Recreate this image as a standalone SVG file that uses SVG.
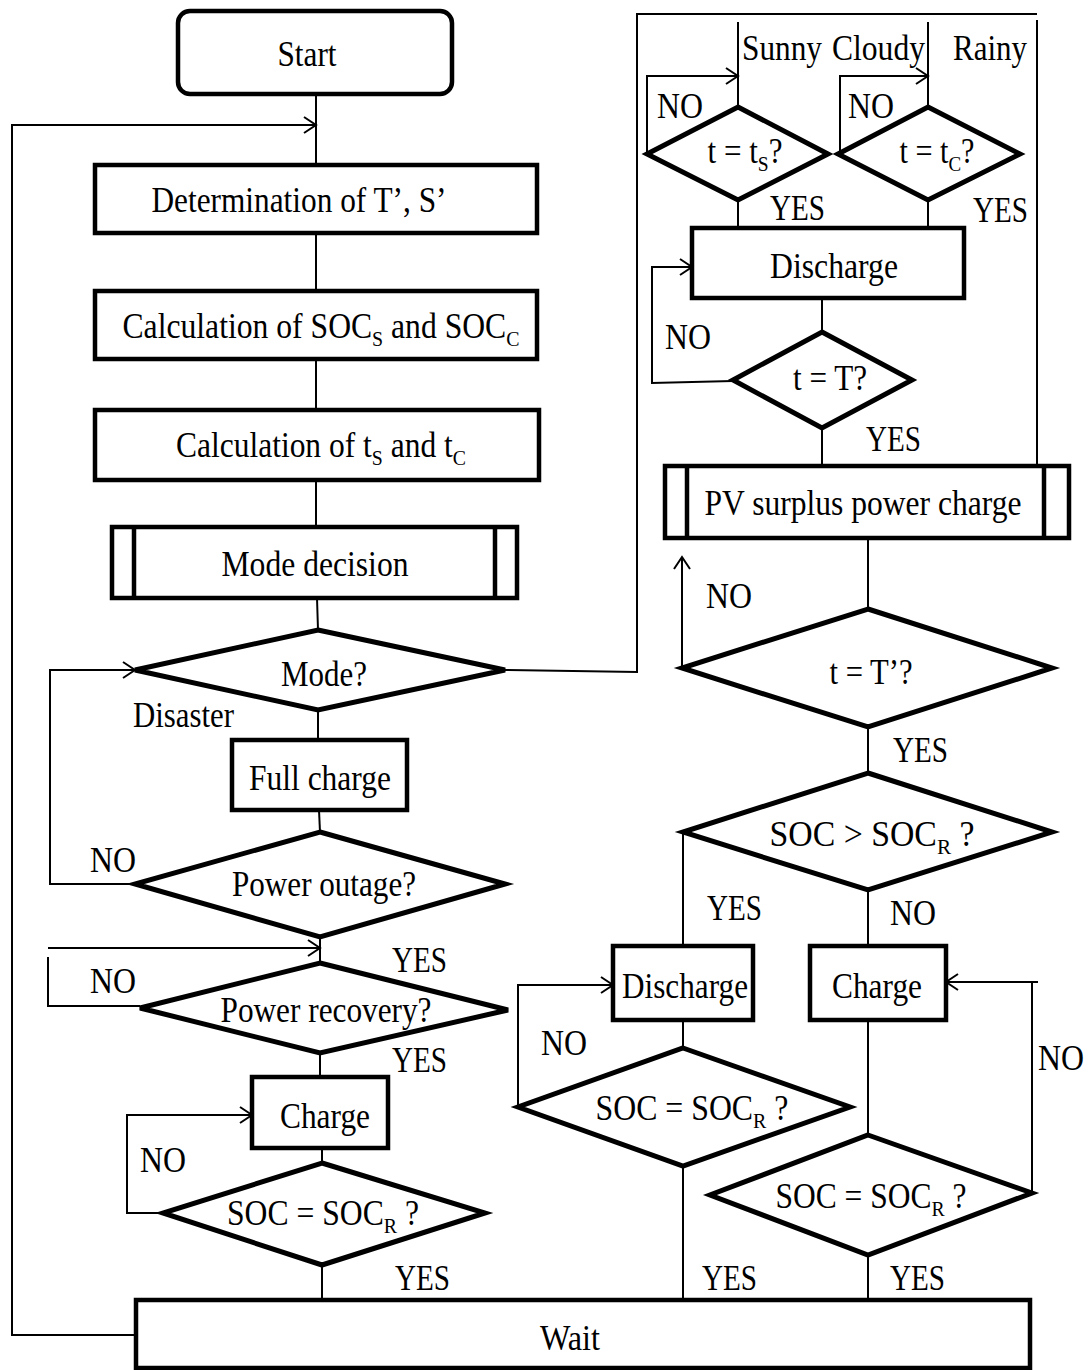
<svg xmlns="http://www.w3.org/2000/svg" width="1089" height="1370" viewBox="0 0 1089 1370">
<style>
.box{fill:#fff;stroke:#000;stroke-width:4.5}
.dia{fill:#fff;stroke:#000;stroke-width:5;stroke-linejoin:miter}
.ln{fill:none;stroke:#000;stroke-width:2}
.in{stroke:#000;stroke-width:4.5}
text{font-family:"Liberation Serif","Times New Roman",serif;font-size:35px;fill:#000}
.c{text-anchor:middle}
.sub{font-size:22px}
</style>
<defs>
<marker id="ah" markerUnits="userSpaceOnUse" markerWidth="20" markerHeight="20" viewBox="0 0 20 20" refX="15" refY="10" orient="auto">
<path d="M3,2 L15,10 L3,18" fill="none" stroke="#000" stroke-width="2"/>
</marker>
</defs>
<rect width="1089" height="1370" fill="#fff"/>
<g id="connectors">
<line class="ln" x1="316" y1="94" x2="316" y2="165"/>
<polyline class="ln" points="136,1335 12,1335 12,125 316,125" marker-end="url(#ah)"/>
<line class="ln" x1="316" y1="233" x2="316" y2="291"/>
<line class="ln" x1="316" y1="359" x2="316" y2="410"/>
<line class="ln" x1="316" y1="480" x2="316" y2="527"/>
<line class="ln" x1="317" y1="598" x2="318" y2="630"/>
<polyline class="ln" points="505,670 637,672 637,14 1037,14"/>
<line class="ln" x1="1037" y1="20" x2="1037" y2="466"/>
<line class="ln" x1="738" y1="22" x2="738" y2="107"/>
<line class="ln" x1="928" y1="22" x2="928" y2="107"/>
<polyline class="ln" points="647,154 647,76 738,76" marker-end="url(#ah)"/>
<polyline class="ln" points="840,154 840,76 928,76" marker-end="url(#ah)"/>
<line class="ln" x1="738" y1="200" x2="738" y2="228"/>
<line class="ln" x1="928" y1="200" x2="928" y2="228"/>
<line class="ln" x1="822" y1="298" x2="822" y2="332"/>
<polyline class="ln" points="733,381 652,383 652,267 692,267" marker-end="url(#ah)"/>
<line class="ln" x1="822" y1="428" x2="822" y2="466"/>
<line class="ln" x1="868" y1="538" x2="868" y2="609"/>
<line class="ln" x1="682" y1="668" x2="682" y2="557" marker-end="url(#ah)"/>
<line class="ln" x1="868" y1="727" x2="868" y2="773"/>
<line class="ln" x1="683" y1="832" x2="683" y2="946"/>
<line class="ln" x1="868" y1="890" x2="868" y2="946"/>
<line class="ln" x1="683" y1="1020" x2="683" y2="1048"/>
<polyline class="ln" points="518,1107 518,985 613,985" marker-end="url(#ah)"/>
<line class="ln" x1="683" y1="1166" x2="683" y2="1300"/>
<line class="ln" x1="868" y1="1020" x2="868" y2="1135"/>
<polyline class="ln" points="1032,1193 1032,982 1038,982"/>
<line class="ln" x1="1032" y1="982" x2="946" y2="982" marker-end="url(#ah)"/>
<line class="ln" x1="868" y1="1255" x2="868" y2="1300"/>
<line class="ln" x1="318" y1="710" x2="318" y2="740"/>
<line class="ln" x1="319" y1="810" x2="320" y2="832"/>
<polyline class="ln" points="135,884 50,884 50,670 135,670" marker-end="url(#ah)"/>
<line class="ln" x1="320" y1="937" x2="320" y2="963"/>
<line class="ln" x1="48" y1="948" x2="320" y2="948" marker-end="url(#ah)"/>
<polyline class="ln" points="140,1006 48,1006 48,957"/>
<line class="ln" x1="320" y1="1053" x2="320" y2="1077"/>
<line class="ln" x1="322" y1="1148" x2="322" y2="1163"/>
<polyline class="ln" points="163,1213 127,1213 127,1115 252,1115" marker-end="url(#ah)"/>
<line class="ln" x1="322" y1="1265" x2="322" y2="1300"/>
</g>
<g id="start"><rect class="box" x="178" y="11" width="274" height="83" rx="12"/><text class="c" x="307" y="66" textLength="59" lengthAdjust="spacingAndGlyphs">Start</text></g>
<g id="determination"><rect class="box" x="95" y="165" width="442" height="68"/><text class="c" x="299" y="212" textLength="295" lengthAdjust="spacingAndGlyphs">Determination of T’, S’</text></g>
<g id="calc-soc"><rect class="box" x="95" y="291" width="442" height="68"/><text class="c" x="321" y="338" textLength="397" lengthAdjust="spacingAndGlyphs">Calculation of SOC<tspan class="sub" dy="8">S</tspan><tspan dy="-8"> and SOC</tspan><tspan class="sub" dy="8">C</tspan></text></g>
<g id="calc-t"><rect class="box" x="95" y="410" width="444" height="70"/><text class="c" x="321" y="457" textLength="290" lengthAdjust="spacingAndGlyphs">Calculation of t<tspan class="sub" dy="8">S</tspan><tspan dy="-8"> and t</tspan><tspan class="sub" dy="8">C</tspan></text></g>
<g id="mode-decision"><rect class="box" x="112" y="527" width="405" height="71"/><line class="in" x1="134" y1="527" x2="134" y2="598"/><line class="in" x1="495" y1="527" x2="495" y2="598"/><text class="c" x="315" y="576" textLength="187" lengthAdjust="spacingAndGlyphs">Mode decision</text></g>
<g id="mode"><polygon class="dia" points="318,630 505,670 318,710 135,670"/><text class="c" x="324" y="686" textLength="86" lengthAdjust="spacingAndGlyphs">Mode?</text></g>
<g id="full-charge"><rect class="box" x="232" y="740" width="175" height="70"/><text class="c" x="320" y="790" textLength="142" lengthAdjust="spacingAndGlyphs">Full charge</text></g>
<g id="power-outage"><polygon class="dia" points="320,832 505,884 320,937 135,884"/><text class="c" x="324" y="896" textLength="184" lengthAdjust="spacingAndGlyphs">Power outage?</text></g>
<g id="power-recovery"><polygon class="dia" points="320,963 508,1010 320,1053 140,1008"/><text class="c" x="326" y="1022" textLength="211" lengthAdjust="spacingAndGlyphs">Power recovery?</text></g>
<g id="charge-left"><rect class="box" x="252" y="1077" width="136" height="71"/><text class="c" x="325" y="1128" textLength="90" lengthAdjust="spacingAndGlyphs">Charge</text></g>
<g id="soc-left"><polygon class="dia" points="322,1163 485,1213 322,1265 163,1213"/><text class="c" x="323" y="1225" textLength="192" lengthAdjust="spacingAndGlyphs">SOC = SOC<tspan class="sub" dy="8">R</tspan><tspan dy="-8"> ?</tspan></text></g>
<g id="wait"><rect class="box" x="136" y="1300" width="894" height="68"/><text class="c" x="570" y="1350" textLength="60" lengthAdjust="spacingAndGlyphs">Wait</text></g>
<g id="t-ts"><polygon class="dia" points="738,107 828,154 738,200 647,154"/><text class="c" x="745" y="163" textLength="75" lengthAdjust="spacingAndGlyphs">t = t<tspan class="sub" dy="8">S</tspan><tspan dy="-8">?</tspan></text></g>
<g id="t-tc"><polygon class="dia" points="928,107 1020,154 928,200 838,154"/><text class="c" x="937" y="163" textLength="75" lengthAdjust="spacingAndGlyphs">t = t<tspan class="sub" dy="8">C</tspan><tspan dy="-8">?</tspan></text></g>
<g id="discharge-top"><rect class="box" x="692" y="228" width="272" height="70"/><text class="c" x="834" y="278" textLength="128" lengthAdjust="spacingAndGlyphs">Discharge</text></g>
<g id="t-T"><polygon class="dia" points="822,332 912,380 822,428 733,380"/><text class="c" x="830" y="390" textLength="74" lengthAdjust="spacingAndGlyphs">t = T?</text></g>
<g id="pv-surplus"><rect class="box" x="665" y="466" width="404" height="72"/><line class="in" x1="687" y1="466" x2="687" y2="538"/><line class="in" x1="1044" y1="466" x2="1044" y2="538"/><text class="c" x="863" y="515" textLength="317" lengthAdjust="spacingAndGlyphs">PV surplus power charge</text></g>
<g id="t-Tp"><polygon class="dia" points="868,609 1052,668 868,727 682,668"/><text class="c" x="871" y="684" textLength="83" lengthAdjust="spacingAndGlyphs">t = T’?</text></g>
<g id="soc-gt"><polygon class="dia" points="868,773 1052,832 868,890 683,832"/><text class="c" x="872" y="846" textLength="205" lengthAdjust="spacingAndGlyphs">SOC &gt; SOC<tspan class="sub" dy="8">R</tspan><tspan dy="-8"> ?</tspan></text></g>
<g id="discharge-mid"><rect class="box" x="613" y="946" width="140" height="74"/><text class="c" x="685" y="998" textLength="126" lengthAdjust="spacingAndGlyphs">Discharge</text></g>
<g id="charge-right"><rect class="box" x="810" y="946" width="136" height="74"/><text class="c" x="877" y="998" textLength="90" lengthAdjust="spacingAndGlyphs">Charge</text></g>
<g id="soc-mid"><polygon class="dia" points="683,1048 850,1107 683,1166 518,1107"/><text class="c" x="692" y="1120" textLength="193" lengthAdjust="spacingAndGlyphs">SOC = SOC<tspan class="sub" dy="8">R</tspan><tspan dy="-8"> ?</tspan></text></g>
<g id="soc-right"><polygon class="dia" points="868,1135 1032,1193 868,1255 710,1195"/><text class="c" x="871" y="1208" textLength="191" lengthAdjust="spacingAndGlyphs">SOC = SOC<tspan class="sub" dy="8">R</tspan><tspan dy="-8"> ?</tspan></text></g>
<g id="labels">
<text x="742" y="60" textLength="80" lengthAdjust="spacingAndGlyphs">Sunny</text>
<text x="832" y="60" textLength="93" lengthAdjust="spacingAndGlyphs">Cloudy</text>
<text x="953" y="60" textLength="74" lengthAdjust="spacingAndGlyphs">Rainy</text>
<text x="657" y="118" textLength="46" lengthAdjust="spacingAndGlyphs">NO</text>
<text x="848" y="118" textLength="46" lengthAdjust="spacingAndGlyphs">NO</text>
<text x="770" y="220" textLength="55" lengthAdjust="spacingAndGlyphs">YES</text>
<text x="973" y="222" textLength="55" lengthAdjust="spacingAndGlyphs">YES</text>
<text x="665" y="349" textLength="46" lengthAdjust="spacingAndGlyphs">NO</text>
<text x="866" y="451" textLength="55" lengthAdjust="spacingAndGlyphs">YES</text>
<text x="706" y="608" textLength="46" lengthAdjust="spacingAndGlyphs">NO</text>
<text x="893" y="762" textLength="55" lengthAdjust="spacingAndGlyphs">YES</text>
<text x="707" y="920" textLength="55" lengthAdjust="spacingAndGlyphs">YES</text>
<text x="890" y="925" textLength="46" lengthAdjust="spacingAndGlyphs">NO</text>
<text x="541" y="1055" textLength="46" lengthAdjust="spacingAndGlyphs">NO</text>
<text x="1038" y="1070" textLength="46" lengthAdjust="spacingAndGlyphs">NO</text>
<text x="702" y="1290" textLength="55" lengthAdjust="spacingAndGlyphs">YES</text>
<text x="890" y="1290" textLength="55" lengthAdjust="spacingAndGlyphs">YES</text>
<text x="133" y="727" textLength="101" lengthAdjust="spacingAndGlyphs">Disaster</text>
<text x="90" y="872" textLength="46" lengthAdjust="spacingAndGlyphs">NO</text>
<text x="392" y="972" textLength="55" lengthAdjust="spacingAndGlyphs">YES</text>
<text x="90" y="993" textLength="46" lengthAdjust="spacingAndGlyphs">NO</text>
<text x="392" y="1072" textLength="55" lengthAdjust="spacingAndGlyphs">YES</text>
<text x="140" y="1172" textLength="46" lengthAdjust="spacingAndGlyphs">NO</text>
<text x="395" y="1290" textLength="55" lengthAdjust="spacingAndGlyphs">YES</text>
</g>
</svg>
